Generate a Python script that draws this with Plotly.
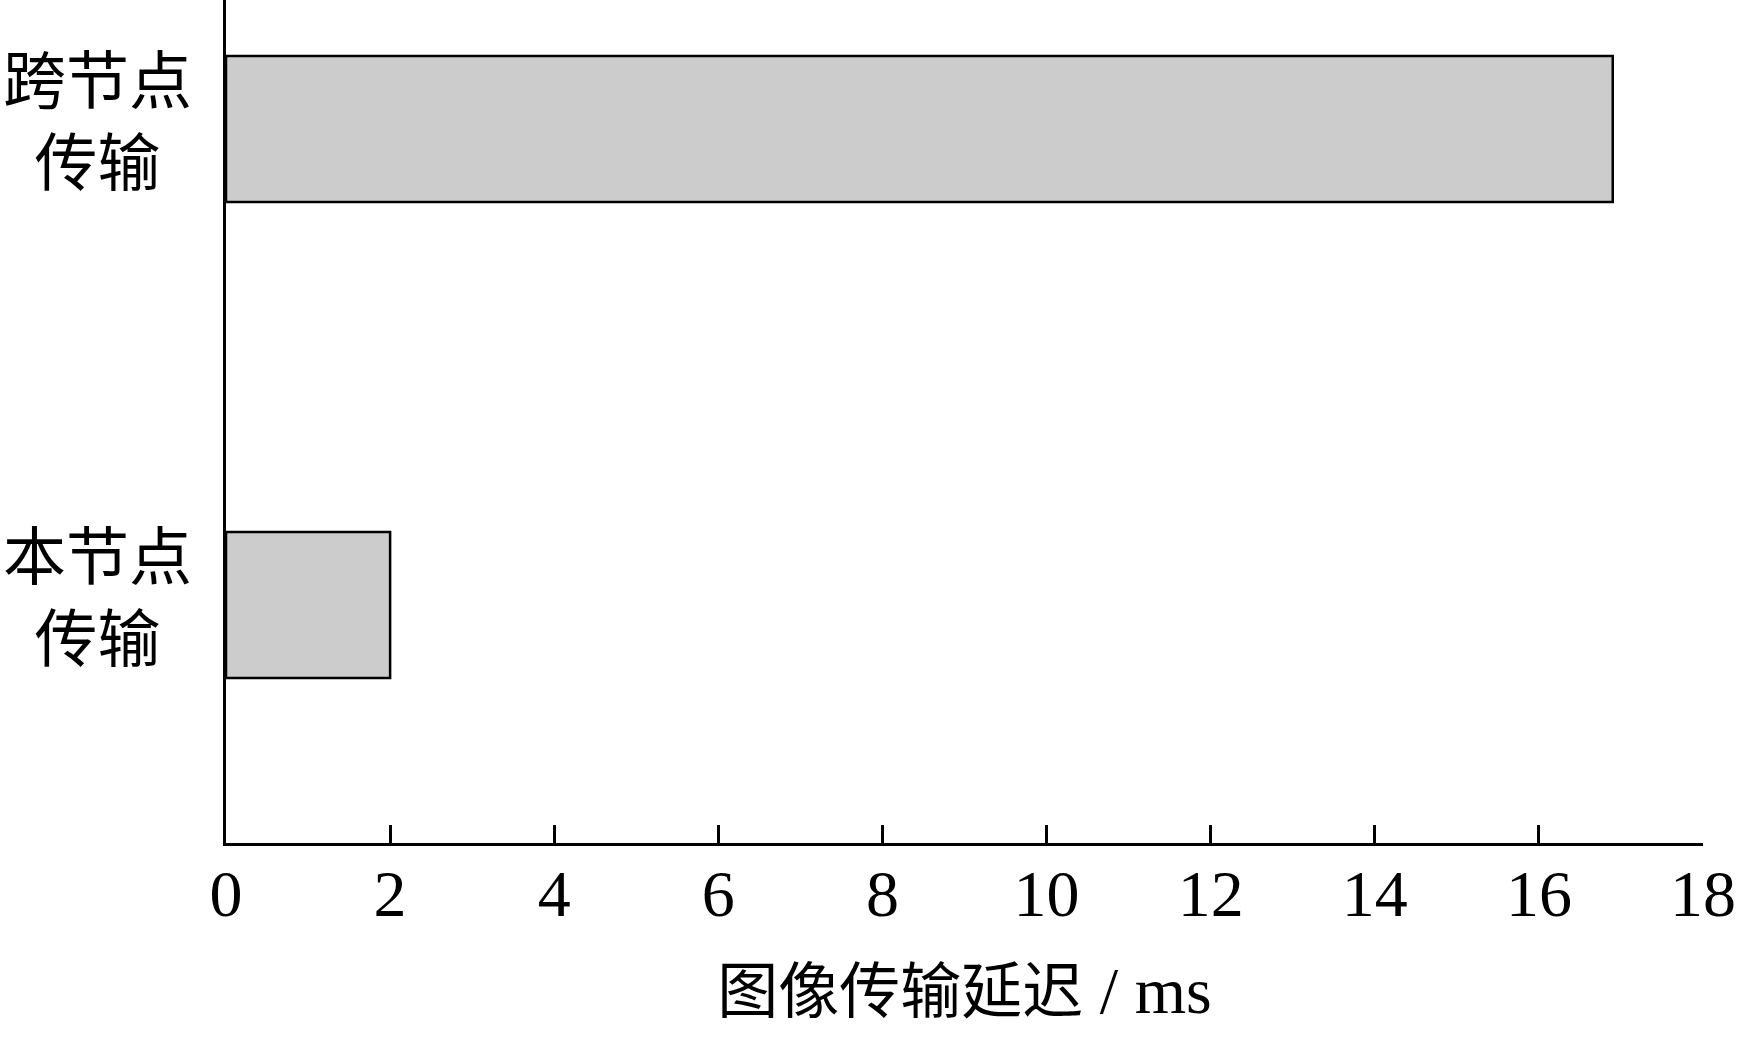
import plotly.graph_objects as go

categories = ["本节点<br>传输", "跨节点<br>传输"]
values = [2.0, 16.9]
x_tickvals = [0, 2, 4, 6, 8, 10, 12, 14, 16, 18]
x_title_cjk = "图像传输延迟"
x_title_unit = " / ms"

FONT = "Liberation Serif, Times New Roman, Noto Sans CJK SC, serif"

fig = go.Figure()
fig.add_trace(go.Bar(
    y=list(range(len(categories))),
    x=values,
    orientation="h",
    width=0.307,
    marker=dict(color="#cccccc", line=dict(color="black", width=2.5)),
))

for i, c in enumerate(categories):
    fig.add_annotation(
        x=-0.0873, xref="paper", y=i, yref="y", yshift=6,
        text=c, showarrow=False, xanchor="center", yanchor="middle",
        align="center",
        font=dict(family=FONT, size=63, color="black"),
    )

fig.update_layout(
    width=1737, height=1037,
    margin=dict(l=226, r=34, t=0, b=194),
    paper_bgcolor="white", plot_bgcolor="white",
    showlegend=False,
    font=dict(family=FONT, color="black"),
)
fig.update_xaxes(
    range=[0, 18], tickvals=x_tickvals,
    ticks="inside", ticklen=18, tickwidth=2.5, tickcolor="black",
    showline=True, linecolor="black", linewidth=2.5,
    showgrid=False, zeroline=False,
    ticklabelstandoff=-9,
    tickfont=dict(family=FONT, size=66, color="black"),
    title=dict(text=x_title_cjk + "<span style='font-size:66px'>" + x_title_unit + "</span>",
               font=dict(family=FONT, size=61, color="black"), standoff=42),
)
fig.update_yaxes(
    range=[-0.5, 1.271],
    showline=True, linecolor="black", linewidth=2.5,
    showticklabels=False, ticks="", showgrid=False, zeroline=False,
)
fig.write_html("out.html", config={"displayModeBar": False},
               post_script="document.body.style.margin='0';")
